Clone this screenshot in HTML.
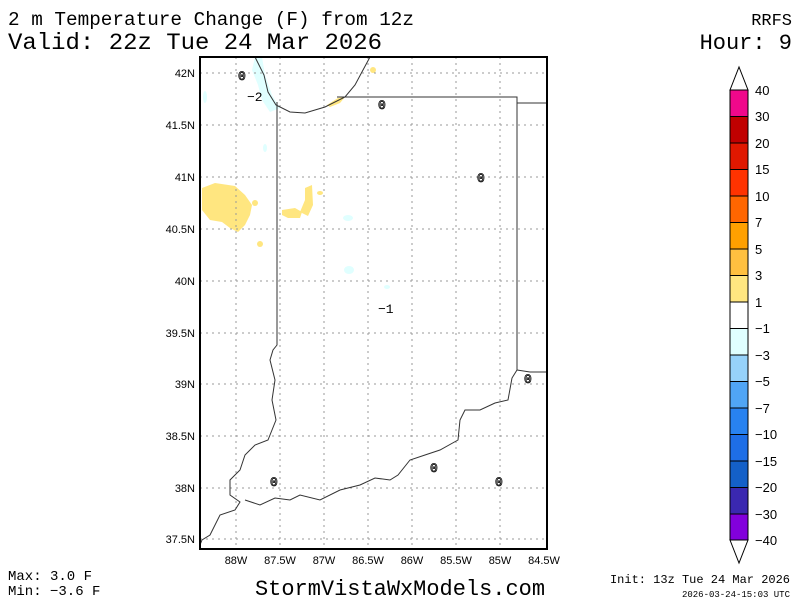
<!DOCTYPE html>
<html><head><style>
body{margin:0;background:#fff;width:800px;height:600px;overflow:hidden}
svg{display:block;font-family:"Liberation Sans",sans-serif}
</style></head><body>
<svg width="800" height="600" xmlns="http://www.w3.org/2000/svg">
<rect width="800" height="600" fill="#fff"/>
<g font-family="Liberation Mono, monospace" fill="#000">
<text x="8" y="25" font-size="19" textLength="406" lengthAdjust="spacingAndGlyphs">2 m Temperature Change (F) from 12z</text>
<text x="8" y="49" font-size="23" textLength="374" lengthAdjust="spacingAndGlyphs">Valid: 22z Tue 24 Mar 2026</text>
<text x="792" y="25" font-size="17" text-anchor="end">RRFS</text>
<text x="792" y="49" font-size="22" text-anchor="end">Hour: 9</text>
<text x="8" y="580" font-size="14">Max: 3.0 F</text>
<text x="8" y="595" font-size="14">Min: −3.6 F</text>
<text x="255" y="595" font-size="22" textLength="290" lengthAdjust="spacingAndGlyphs">StormVistaWxModels.com</text>
<text x="790" y="583" font-size="12" text-anchor="end">Init: 13z Tue 24 Mar 2026</text>
<text x="790" y="597" font-size="9" text-anchor="end">2026-03-24-15:03 UTC</text>
</g>
<g fill="#ffe680">
<path d="M202,188 L215,183 L235,186 L245,195 L252,205 L250,215 L245,225 L238,232 L230,228 L222,222 L210,220 L202,210Z"/>
<path d="M282,210 L295,208 L302,212 L300,218 L288,218 L282,215Z"/>
<path d="M305,188 L312,185 L313,205 L308,216 L300,212 L305,200Z"/>
<ellipse cx="320" cy="193" rx="3" ry="2"/>
<path d="M327,105 L338,98 L345,97 L340,103 L330,107Z"/>
<ellipse cx="373" cy="70" rx="3" ry="3"/>
<ellipse cx="260" cy="244" rx="3" ry="3"/>
<ellipse cx="255" cy="203" rx="3" ry="3"/>
</g>
<g fill="#e0ffff">
<path d="M255,57 L262,57 L265,75 L272,95 L280,108 L270,112 L262,100 L258,85 L252,70Z"/>
<ellipse cx="348" cy="218" rx="5" ry="3"/>
<ellipse cx="349" cy="270" rx="5" ry="4"/>
<ellipse cx="205" cy="97" rx="2" ry="6"/>
<ellipse cx="265" cy="148" rx="2" ry="4"/>
<ellipse cx="387" cy="287" rx="3" ry="2"/>
</g>
<g stroke="#999" stroke-dasharray="2,4" stroke-width="1">
<line x1="236" y1="57" x2="236" y2="549"/><line x1="280" y1="57" x2="280" y2="549"/>
<line x1="324" y1="57" x2="324" y2="549"/><line x1="368" y1="57" x2="368" y2="549"/>
<line x1="412" y1="57" x2="412" y2="549"/><line x1="456" y1="57" x2="456" y2="549"/>
<line x1="500" y1="57" x2="500" y2="549"/>
<line x1="200" y1="73" x2="547" y2="73"/><line x1="200" y1="125" x2="547" y2="125"/>
<line x1="200" y1="177" x2="547" y2="177"/><line x1="200" y1="229" x2="547" y2="229"/>
<line x1="200" y1="281" x2="547" y2="281"/><line x1="200" y1="333" x2="547" y2="333"/>
<line x1="200" y1="384" x2="547" y2="384"/><line x1="200" y1="436" x2="547" y2="436"/>
<line x1="200" y1="488" x2="547" y2="488"/><line x1="200" y1="539" x2="547" y2="539"/>
</g>
<g fill="none" stroke="#333" stroke-width="1">
<path d="M255,57 L264,75 L268,92 L276,105 L290,112 L305,113 L325,107 L345,97 L355,85 L363,70 L370,57"/>
<path d="M277,102 L277,345 L273,350 L270,360 L275,380 L272,400 L276,420 L268,440 L255,445 L245,455 L240,470 L230,480 L230,495 L240,502 L235,510 L220,515 L210,535 L202,540 L200,545"/>
<path d="M337,97 L517,97 L517,370 L512,378 L508,400 L495,403 L480,410 L465,410 L460,420 L458,440 L440,450 L425,455 L410,460 L398,475 L390,480 L375,478 L360,485 L340,490 L320,500 L300,495 L290,500 L275,498 L260,505 L245,500"/>
<path d="M517,103 L547,103"/>
<path d="M517,370 L530,372 L547,372"/>
</g>
<rect x="200" y="57" width="347" height="492" fill="none" stroke="#000" stroke-width="2"/>
<g font-family="Liberation Mono, monospace" font-size="13" fill="#fff" stroke="#000" stroke-width="0.8">
<text x="238" y="80">0</text><text x="378" y="109">0</text><text x="477" y="182">0</text>
<text x="524" y="383">0</text><text x="270" y="486">0</text><text x="430" y="472">0</text><text x="495" y="486">0</text>
</g>
<g font-family="Liberation Mono, monospace" font-size="13" fill="#000">
<text x="247" y="101">−2</text><text x="378" y="313">−1</text>
</g>
<g font-size="11" fill="#000" text-anchor="end">
<text x="195" y="77">42N</text><text x="195" y="129">41.5N</text><text x="195" y="181">41N</text>
<text x="195" y="233">40.5N</text><text x="195" y="285">40N</text><text x="195" y="337">39.5N</text>
<text x="195" y="388">39N</text><text x="195" y="440">38.5N</text><text x="195" y="492">38N</text>
<text x="195" y="543">37.5N</text>
</g>
<g font-size="11" fill="#000" text-anchor="middle">
<text x="236" y="564">88W</text><text x="280" y="564">87.5W</text><text x="324" y="564">87W</text>
<text x="368" y="564">86.5W</text><text x="412" y="564">86W</text><text x="456" y="564">85.5W</text>
<text x="500" y="564">85W</text><text x="544" y="564">84.5W</text>
</g>
<g stroke="#000" stroke-width="1">
<path d="M730,90 L739,67 L748,90Z" fill="#fff"/>
<path d="M730,540 L739,563 L748,540Z" fill="#fff"/>
<rect x="730" y="90" width="18" height="26.5" fill="#f0088b"/>
<rect x="730" y="116.5" width="18" height="26.5" fill="#c00000"/>
<rect x="730" y="143" width="18" height="26.5" fill="#e01800"/>
<rect x="730" y="169.5" width="18" height="26.5" fill="#ff3300"/>
<rect x="730" y="196" width="18" height="26.5" fill="#ff6600"/>
<rect x="730" y="222.5" width="18" height="26.5" fill="#ffa000"/>
<rect x="730" y="249" width="18" height="26.5" fill="#ffc040"/>
<rect x="730" y="275.5" width="18" height="26.5" fill="#ffe680"/>
<rect x="730" y="302" width="18" height="26.5" fill="#ffffff"/>
<rect x="730" y="328.5" width="18" height="26.5" fill="#e0ffff"/>
<rect x="730" y="355" width="18" height="26.5" fill="#96d2fa"/>
<rect x="730" y="381.5" width="18" height="26.5" fill="#50a5f5"/>
<rect x="730" y="408" width="18" height="26.5" fill="#2882f0"/>
<rect x="730" y="434.5" width="18" height="26.5" fill="#1e6ee6"/>
<rect x="730" y="461" width="18" height="26.5" fill="#1460c8"/>
<rect x="730" y="487.5" width="18" height="26.5" fill="#3a28b0"/>
<rect x="730" y="514" width="18" height="26" fill="#8200dc"/>
</g>
<g font-size="13" fill="#000">
<text x="755" y="95">40</text><text x="755" y="121">30</text><text x="755" y="148">20</text>
<text x="755" y="174">15</text><text x="755" y="201">10</text><text x="755" y="227">7</text>
<text x="755" y="254">5</text><text x="755" y="280">3</text><text x="755" y="307">1</text>
<text x="755" y="333">−1</text><text x="755" y="360">−3</text><text x="755" y="386">−5</text>
<text x="755" y="413">−7</text><text x="755" y="439">−10</text><text x="755" y="466">−15</text>
<text x="755" y="492">−20</text><text x="755" y="519">−30</text><text x="755" y="545">−40</text>
</g>
</svg>
</body></html>
